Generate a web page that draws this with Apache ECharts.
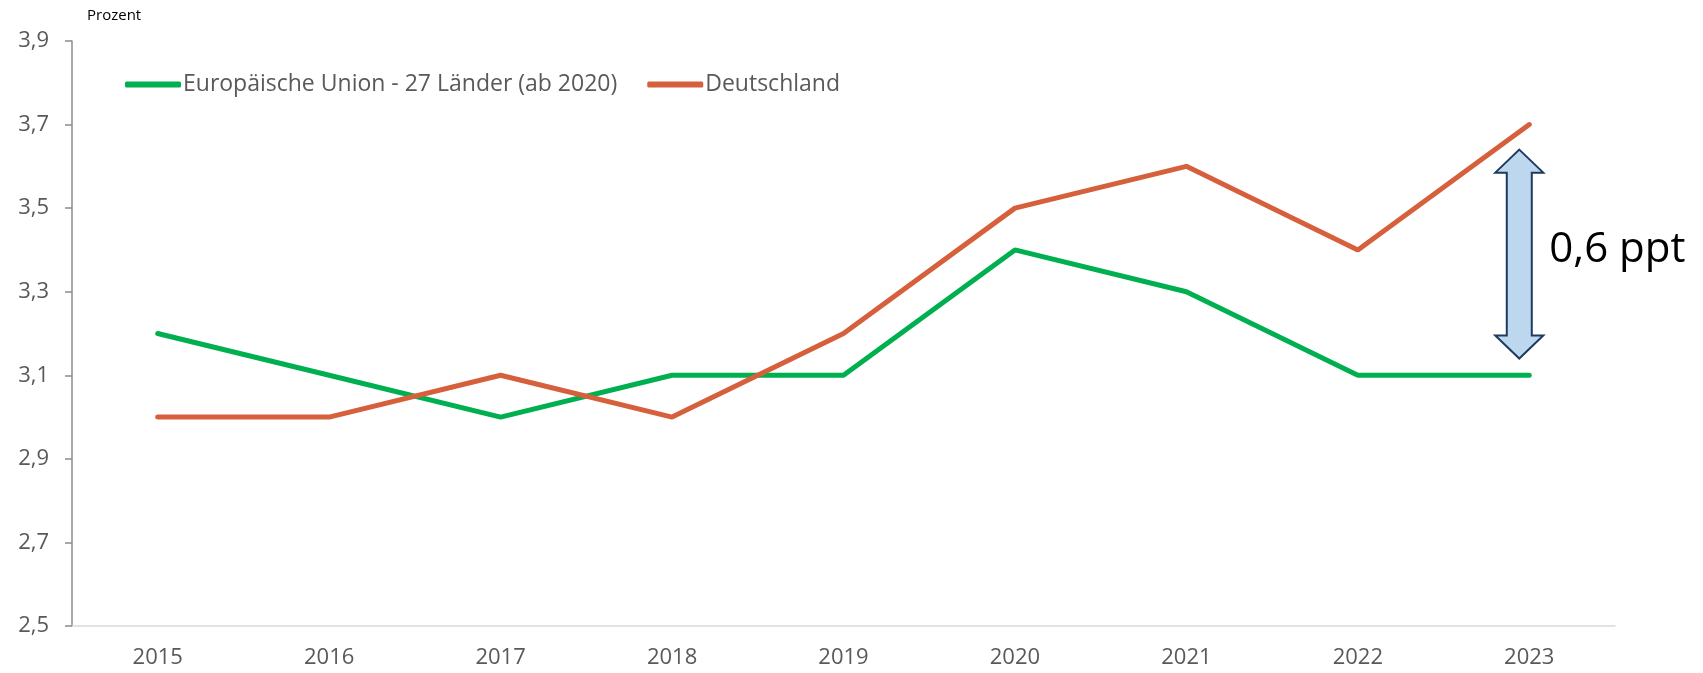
<!DOCTYPE html>
<html><head><meta charset="utf-8">
<script src="https://cdn.jsdelivr.net/npm/echarts@6/dist/echarts.min.js"></script>
<style>html,body{margin:0;padding:0;background:#fff}#c{width:1703px;height:673px}</style>
</head><body><div id="c"></div>
<script>
const years = ['2015','2016','2017','2018','2019','2020','2021','2022','2023'];
const eu = [3.2, 3.1, 3.0, 3.1, 3.1, 3.4, 3.3, 3.1, 3.1];
const de = [3.0, 3.0, 3.1, 3.0, 3.2, 3.5, 3.6, 3.4, 3.7];
const seriesNames = ['Europäische Union - 27 Länder (ab 2020)', 'Deutschland'];
const gapLabel = '0,6 ppt';
const arrowRange = [3.64, 3.14];

const F = "'Open Sans', 'Liberation Sans', sans-serif";
const chart = echarts.init(document.getElementById('c'));
chart.setOption({
  animation: false,
  title: {text: 'Prozent', left: 82, top: 3, textStyle: {fontFamily: F, fontSize: 15, fontWeight: 'normal', color: '#000'}},
  legend: {
    left: 120, top: 68, itemWidth: 56, itemHeight: 6, itemGap: 30,
    icon: 'roundRect',
    textStyle: {fontFamily: F, fontSize: 23, color: '#595959', padding: [0,0,0,-3]},
    data: seriesNames
  },
  grid: {left: 72, right: 88, top: 41, bottom: 47, containLabel: false},
  xAxis: {
    type: 'category', data: years, boundaryGap: true,
    axisLine: {lineStyle: {color: '#d9d9d9', width: 1.5}},
    axisTick: {show: false},
    axisLabel: {fontFamily: F, fontSize: 22, color: '#595959', margin: 21}
  },
  yAxis: {
    type: 'value', min: 2.5, max: 3.9, interval: 0.2,
    axisLine: {show: true, lineStyle: {color: '#8c8c8c', width: 1.5}},
    axisTick: {show: true, length: 7, lineStyle: {color: '#8c8c8c', width: 1.5}},
    splitLine: {show: false},
    axisLabel: {fontFamily: F, fontSize: 22, color: '#595959', margin: 23,
      formatter: v => v.toFixed(1).replace('.', ',')}
  },
  series: [
    {name: seriesNames[0], type: 'line', data: eu, symbol: 'none',
     lineStyle: {color: '#00b050', width: 5, cap: 'round'}, itemStyle: {color: '#00b050'}},
    {name: seriesNames[1], type: 'line', data: de, symbol: 'none',
     lineStyle: {color: '#d6603c', width: 5, cap: 'round'}, itemStyle: {color: '#d6603c'}}
  ]
});

// annotation arrow positioned from data coordinates
const pTop = chart.convertToPixel({xAxisIndex: 0, yAxisIndex: 0}, [years[8], arrowRange[0]]);
const pBot = chart.convertToPixel({xAxisIndex: 0, yAxisIndex: 0}, [years[8], arrowRange[1]]);
const cx = pTop[0] - 10, y0 = pTop[1], y1 = pBot[1];
const hw = 24, sw = 12.5, hh = 23;
const pts = [
  [cx, y0], [cx + hw, y0 + hh], [cx + sw, y0 + hh], [cx + sw, y1 - hh], [cx + hw, y1 - hh],
  [cx, y1], [cx - hw, y1 - hh], [cx - sw, y1 - hh], [cx - sw, y0 + hh], [cx - hw, y0 + hh]
];
chart.setOption({graphic: [
  {type: 'polygon', shape: {points: pts}, style: {fill: '#bdd7ee', stroke: '#1f3a5f', lineWidth: 2}},
  {type: 'text', x: cx + 30, y: (y0 + y1) / 2 - 4, style: {text: gapLabel, fontFamily: F, fontSize: 42, fill: '#000', verticalAlign: 'middle'}}
]});
</script></body></html>
